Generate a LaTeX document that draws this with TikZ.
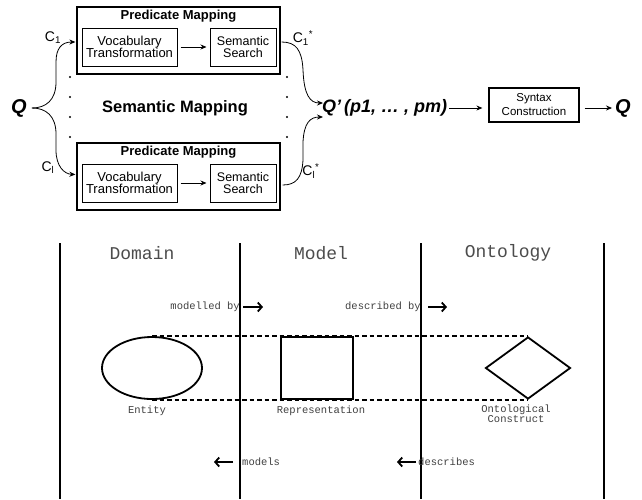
\documentclass[tikz,border=0pt]{standalone}
\usepackage{fontspec}
\setmainfont{Liberation Sans}
\setmonofont{Liberation Mono}
\usetikzlibrary{positioning,arrows.meta,shapes.geometric,calc}

\begin{document}
\begin{tikzpicture}[
  x=1pt, y=-1pt,
  >={Stealth[length=6pt, width=5pt]},
  outer/.style={draw, line width=1.2pt, minimum width=203pt, minimum height=67pt, inner sep=0pt},
  inbox/.style={draw, line width=1pt, minimum height=38pt, inner sep=0pt, align=center,
                font=\fontsize{13}{12.5}\selectfont},
  ttl/.style={font=\bfseries\fontsize{13}{13}\selectfont, inner sep=0pt},
  clbl/.style={font=\fontsize{14}{14}\selectfont, inner sep=0pt},
  bigq/.style={font=\bfseries\itshape\fontsize{18}{18}\selectfont, inner sep=0pt},
  flow/.style={->, line width=0.8pt},
  lane/.style={line width=1.8pt},
  head/.style={font=\ttfamily\fontsize{18}{18}\selectfont, text=black!70},
  small/.style={font=\ttfamily\fontsize{10.5}{10}\selectfont, text=black!75, inner sep=0pt, align=center},
  thing/.style={draw, line width=1.8pt, inner sep=0pt},
  guide/.style={line width=1.6pt, dash pattern=on 4.5pt off 3pt},
  barb/.style={line width=1.8pt, -{Straight Barb[length=4pt, width=9pt]}},
]
\useasboundingbox (0,0) rectangle (642,499);

% ---- two predicate mappings ----
\foreach \i/\y in {A/40.5, B/176.5}{
  \node[outer] (pm\i) at (178.5,\y) {};
  \node[ttl] (pt\i) at (178.5,\y-24) {Predicate Mapping};
  \node[inbox, minimum width=95pt] (vt\i) at (129.5,\y+6.5) {Vocabulary\\Transformation};
  \node[inbox, minimum width=66pt, font=\fontsize{12.5}{12.5}\selectfont] (ss\i) at (243,\y+6.5) {Semantic\\Search};
  \draw[flow, shorten <=3pt, shorten >=3pt] (vt\i) -- (ss\i);
}
\foreach \y in {77,97,117,137}{
  \fill (70,\y) circle (1.2pt);
  \fill (287,\y) circle (1.2pt);
}
\node[font=\bfseries\fontsize{16.5}{16.5}\selectfont] (sm) at (175,108) {Semantic Mapping};

% ---- query in, branches ----
\node[bigq, font=\bfseries\itshape\fontsize{20}{20}\selectfont] (qin) at (19,108) {Q};
\coordinate (inA) at ($(pmA.west)+(-1,1.5)$);
\coordinate (inB) at ($(pmB.west)+(-1,-2)$);
\draw[flow, shorten <=5pt] (qin.east) .. controls (46,108) and (56,100) .. (56,82)
  -- (56,62) .. controls (56,48) and (62,42) .. (inA);
\draw[flow, shorten <=5pt] (qin.east) .. controls (46,108) and (56,116) .. (56,134)
  -- (56,150) .. controls (56,166) and (64,174) .. (inB);
\node[clbl] (c1) at (53,38) {C\textsubscript{1}};
\node[clbl] (cl) at (48,168) {C\textsubscript{l}};

% ---- merge into Q' ----
\node[bigq, anchor=west] (qmid) at (322,108) {Q'\,(p1, \dots\ , pm)};
\coordinate (outA) at ($(pmA.east)+(1,1.5)$);
\coordinate (outB) at ($(pmB.east)+(2,8.5)$);
\draw[flow] (outA) .. controls (296,42) and (302,50) .. (303,70)
  .. controls (304,95) and (310,103) .. ($(qmid.west)+(1,-5)$);
\draw[flow] (outB) .. controls (296,185) and (302,178) .. (303,160)
  -- (303,142) .. controls (304,123) and (310,117) .. ($(qmid.west)+(1,9)$);
\node[clbl] (c1s) at (303,38) {C\textsubscript{1}\textsuperscript{*}};
\node[clbl] (cls) at (311,171) {C\textsubscript{l}\textsuperscript{*}};

% ---- syntax construction ----
\node[inbox, minimum width=90pt, minimum height=34pt, line width=1.2pt,
      font=\fontsize{11.5}{14}\selectfont] (syn) at (534,105) {Syntax\\Construction};
\node[bigq, font=\bfseries\itshape\fontsize{20}{20}\selectfont] (qout) at (623,108) {Q};
\draw[flow, shorten <=2pt, shorten >=6pt] (qmid.east) -- (qmid.east -| syn.west);
\draw[flow, shorten <=5pt, shorten >=3pt] (syn.east |- qout) -- (qout);

% ---- domain / model / ontology lanes ----
\foreach \x in {60,240,421,604}
  \draw[lane] (\x,243) -- (\x,499);
\node[head] (dom) at (142,253) {Domain};
\node[head] (mod) at (321,253) {Model};
\node[head] (ont) at (508,253) {Ontology};

\node[thing, ellipse, minimum width=100pt, minimum height=62pt] (ent) at (152,368) {};
\node[thing, rectangle, line width=1.5pt, minimum width=72pt, minimum height=62pt] (rep) at (317,368) {};
\node[thing, diamond, aspect=1.37, minimum width=85pt, minimum height=62pt] (onc) at (528,368) {};
\draw[guide] (ent.north) -- (onc.north);
\draw[guide] (ent.south) -- (onc.south);

\node[small] (entl) at (147,411) {Entity};
\node[small] (repl) at (321,411) {Representation};
\node[small] (oncl) at (516,414) {Ontological\\Construct};

% ---- relation arrows ----
\node[small, anchor=east] (mby) at (240,307) {modelled by};
\coordinate (mbyE) at (263,307);
\draw[barb] ($(mby.east)+(3,0)$) -- (mbyE);
\node[small, anchor=east] (dby) at (421,307) {described by};
\coordinate (dbyE) at (447,307);
\draw[barb] ($(dby.east)+(7,0)$) -- (dbyE);
\node[small, anchor=west] (mdl) at (242,462) {models};
\coordinate (mdlE) at (214,462);
\draw[barb] ($(mdl.west)+(-9,0)$) -- (mdlE);
\node[small, anchor=west] (dsc) at (418,462) {describes};
\coordinate (dscE) at (397,462);
\draw[barb] ($(dsc.west)+(-2,0)$) -- (dscE);
\end{tikzpicture}
\end{document}
